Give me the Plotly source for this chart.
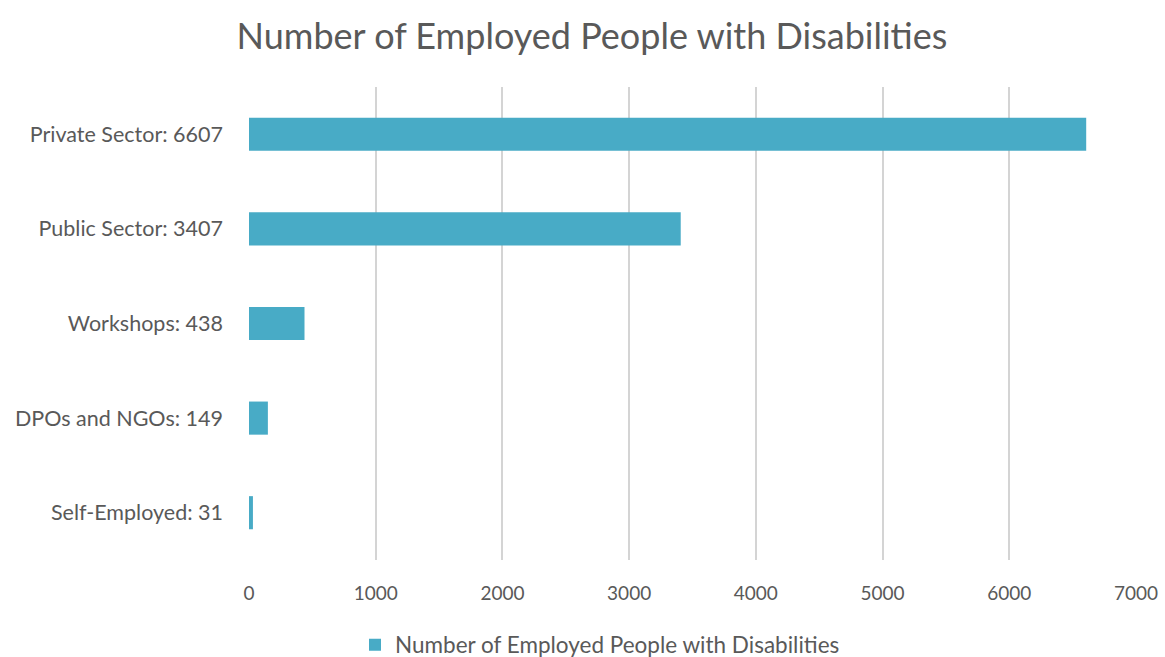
import plotly.graph_objects as go

categories = ["Private Sector: 6607", "Public Sector: 3407", "Workshops: 438",
              "DPOs and NGOs: 149", "Self-Employed: 31"]
values = [6607, 3407, 438, 149, 31]
series_name = "Number of Employed People with Disabilities"
x_ticks = [0, 1000, 2000, 3000, 4000, 5000, 6000, 7000]

font_family = "Lato, 'Open Sans', sans-serif"
text_color = "#595959"

fig = go.Figure()
fig.add_trace(go.Bar(
    y=categories, x=values, orientation="h", name=series_name,
    marker=dict(color="#48ABC6", line=dict(width=0)),
    width=0.35, showlegend=True,
))

fig.update_layout(
    width=1165, height=657,
    paper_bgcolor="white", plot_bgcolor="white",
    margin=dict(l=249, r=29, t=87, b=97, autoexpand=False),
    title=dict(text="Number of Employed People with Disabilities",
               x=592 / 1165, xanchor="center", y=1 - 36 / 657, yanchor="middle",
               font=dict(family=font_family, size=36, color=text_color)),
    font=dict(family=font_family, color=text_color),
    xaxis=dict(range=[0, 7000], tickvals=x_ticks, showgrid=True,
               gridcolor="#d4d4d4", gridwidth=1.5, zeroline=False,
               showline=False, ticks="", ticklabelstandoff=20,
               tickfont=dict(size=19, color=text_color)),
    yaxis=dict(categoryorder="array", categoryarray=categories[::-1],
               showgrid=False, zeroline=False, showline=False, ticks="",
               ticklabelstandoff=25,
               tickfont=dict(size=21.5, color=text_color)),
    legend=dict(orientation="h", x=(600 - 249) / 887, xanchor="center",
                yref="container", y=(657 - 645) / 657, yanchor="middle",
                font=dict(size=22.5, color=text_color)),
    bargap=0.65,
)

fig.write_html("out.html")
